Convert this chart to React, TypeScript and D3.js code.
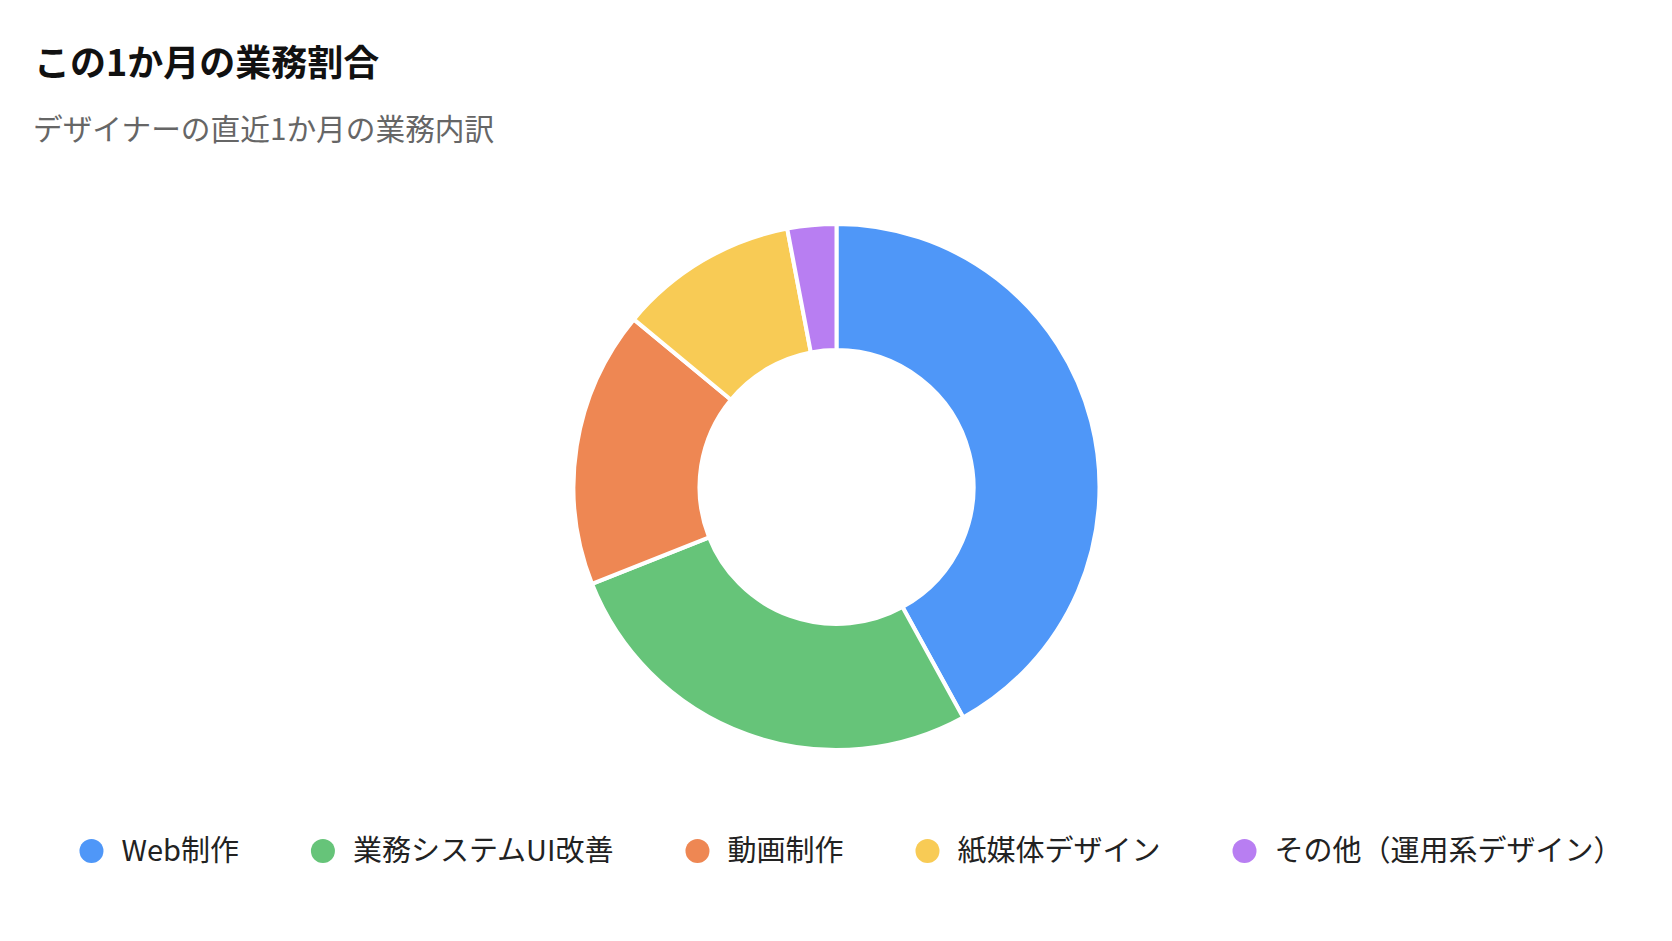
import React, { useEffect, useLayoutEffect, useMemo, useRef, useState } from "react";
import * as d3 from "d3";

const categories = ["Web制作", "業務システムUI改善", "動画制作", "紙媒体デザイン", "その他（運用系デザイン）"];
const values = [42, 27, 17, 11, 3];
const colors = ["#4F97F8", "#66C479", "#EE8753", "#F8CB55", "#B87EF2"];
const title = "この1か月の業務割合";
const subtitle = "デザイナーの直近1か月の業務内訳";

const W = 1672;
const H = 941;
const FONT = "'Noto Sans CJK JP', 'Noto Sans', sans-serif";
const LEGEND_FONT_SIZE = 29;

export default function App() {
  useEffect(() => {
    document.body.style.margin = "0";
    document.body.style.background = "#ffffff";
  }, []);

  const cx = 836.5;
  const cy = 487;
  const outerR = 263;
  const innerR = 137;

  const arcs = useMemo(() => {
    const pie = d3.pie<number>().value((d) => d).sort(null);
    return pie(values);
  }, []);
  const arcGen = d3.arc<d3.PieArcDatum<number>>().innerRadius(innerR).outerRadius(outerR);

  const measureRef = useRef<SVGGElement>(null);
  const [widths, setWidths] = useState<number[]>(categories.map((c) => c.length * LEGEND_FONT_SIZE * 0.9));
  useLayoutEffect(() => {
    const g = measureRef.current;
    if (!g) return;
    const ws: number[] = [];
    d3.select(g)
      .selectAll<SVGTextElement, unknown>("text")
      .each(function () {
        ws.push(this.getComputedTextLength());
      });
    setWidths(ws);
  }, []);

  const dotR = 12;
  const dotToText = 30;
  const itemGap = 72;
  const itemWidths = widths.map((w) => dotR + dotToText + w);
  const total = d3.sum(itemWidths) + itemGap * (categories.length - 1);
  const legendCenter = 851;
  let x0 = legendCenter - total / 2;
  const legendItems = categories.map((c, i) => {
    const start = x0;
    x0 += itemWidths[i] + itemGap;
    return { c, i, dotX: start + dotR, textX: start + dotR + dotToText };
  });
  const legendY = 851;

  return (
    <svg width={W} height={H} style={{ display: "block", background: "#fff" }} fontFamily={FONT}>
      <text x={34} y={76} fontSize={36} fontWeight={700} fill="#111">
        {title}
      </text>
      <text x={33} y={140} fontSize={29.7} fill="#666">
        {subtitle}
      </text>
      <g transform={`translate(${cx},${cy})`}>
        {arcs.map((a, i) => (
          <path key={i} d={arcGen(a) || ""} fill={colors[i]} stroke="#fff" strokeWidth={4} strokeLinejoin="round" />
        ))}
      </g>
      <g ref={measureRef} visibility="hidden">
        {categories.map((c) => (
          <text key={c} x={0} y={-100} fontSize={LEGEND_FONT_SIZE}>
            {c}
          </text>
        ))}
      </g>
      <g>
        {legendItems.map((it) => (
          <g key={it.c}>
            <circle cx={it.dotX} cy={legendY} r={dotR} fill={colors[it.i]} />
            <text x={it.textX} y={legendY} dy="0.35em" fontSize={LEGEND_FONT_SIZE} fill="#222">
              {it.c}
            </text>
          </g>
        ))}
      </g>
    </svg>
  );
}
